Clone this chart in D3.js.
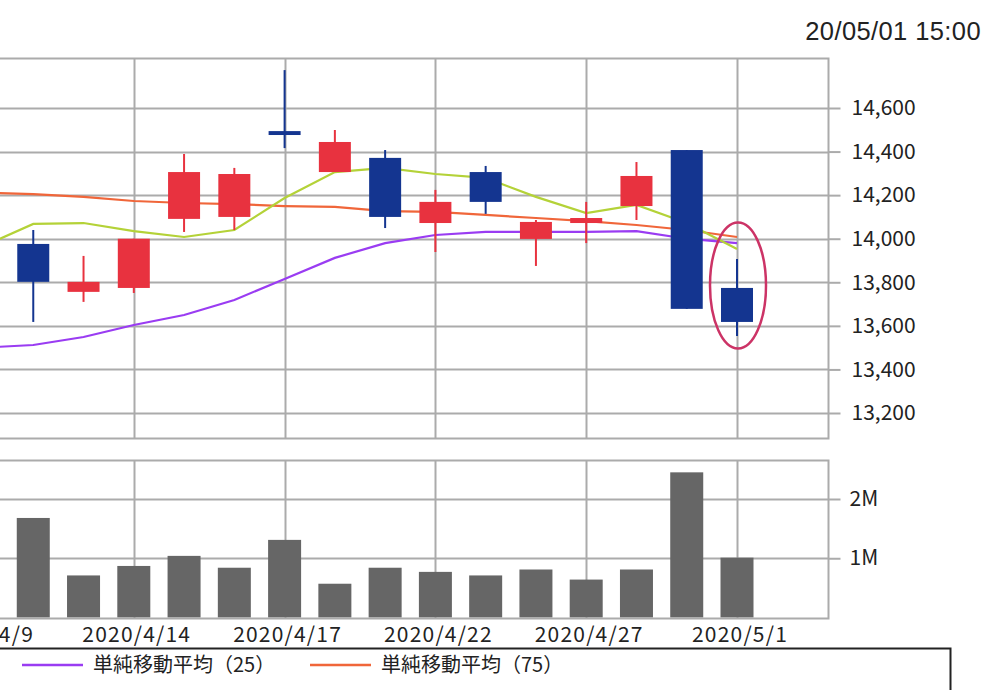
<!DOCTYPE html>
<html><head><meta charset="utf-8">
<script src="https://cdn.jsdelivr.net/npm/d3@7"></script>
<style>
html,body{margin:0;padding:0;background:#fff;overflow:hidden}
svg{display:block}
</style></head>
<body>
<svg id="c" width="994" height="690"></svg>
<script>
// ---- data ----
const dates = ["2020/4/9","2020/4/10","2020/4/13","2020/4/14","2020/4/15","2020/4/16","2020/4/17","2020/4/20","2020/4/21","2020/4/22","2020/4/23","2020/4/24","2020/4/27","2020/4/28","2020/4/30","2020/5/1"];
const openP  = [null,13976,13756,13774,14091,14100,14494,14306,14371,14072,14306,13999,14072,14150,14407,13774];
const highP  = [null,14040,13921,14000,14389,14325,14774,14499,14407,14224,14334,14086,14169,14352,14407,13907];
const lowP   = [null,13618,13710,13751,14031,14040,14416,14306,14049,13939,14114,13875,13980,14086,13678,13554];
const closeP = [null,13802,13802,14000,14306,14297,14476,14444,14100,14169,14169,14077,14095,14288,13678,13618];
const volume = [1450000,1680000,710000,870000,1040000,840000,1310000,570000,840000,770000,710000,810000,640000,810000,2450000,1010000];
const ma5  = [13965,14068,14072,14035,14008,14040,14187,14306,14325,14297,14279,14192,14118,14155,14072,13953];
const ma25 = [13500,13512,13549,13604,13650,13719,13815,13912,13980,14017,14031,14031,14031,14035,14000,13980];
const ma75 = [14212,14205,14192,14173,14164,14159,14150,14146,14127,14123,14109,14095,14081,14063,14040,14008];
const priceTicks = [13200,13400,13600,13800,14000,14200,14400,14600];
const volTicks = [1000000,2000000];
const volTickLabels = ["1M","2M"];
const labelDates = ["2020/4/9","2020/4/14","2020/4/17","2020/4/22","2020/4/27","2020/5/1"];
const legendItems = ["単純移動平均（25）","単純移動平均（75）"];
const stamp = "20/05/01 15:00";
const highlightDate = "2020/5/1";

// ---- layout ----
const svg = d3.select("#c");
const L = -80, R = 828.5;
const pTop = 58.5, pBot = 438.5, vTop = 460.5, vBot = 618.5;
const grid = "#ababab", red = "#e8323f", blue = "#143590";
const colG = "#b4d238", colP = "#9a3cf2", colO = "#f0663a";
const font = "'Noto Sans CJK JP','Noto Sans',sans-serif";

const idx = d3.range(dates.length);
const x = d3.scaleLinear().domain([0, dates.length - 1]).range([-17, 737]);
const y = d3.scaleLinear().domain([13200, 14600]).range([413, 108]);
const yv = d3.scaleLinear().domain([0, 2000000]).range([617.5, 499]);

// timestamp
svg.append("text").attr("x", 981).attr("y", 40).attr("text-anchor", "end")
  .attr("font-family", "'Liberation Sans',Arial,sans-serif").attr("font-size", 25.5)
  .attr("letter-spacing", 0.4)
  .attr("fill", "#222").text(stamp);

// ---- price panel grid ----
const gp = svg.append("g");
gp.selectAll(".hg").data(priceTicks).join("line")
  .attr("x1", L).attr("x2", R).attr("y1", d => Math.round(y(d)) + 0.5).attr("y2", d => Math.round(y(d)) + 0.5)
  .attr("stroke", grid).attr("stroke-width", 2);
gp.selectAll(".vg").data(labelDates).join("line")
  .attr("x1", d => Math.round(x(dates.indexOf(d))) + 0.5).attr("x2", d => Math.round(x(dates.indexOf(d))) + 0.5)
  .attr("y1", pTop).attr("y2", pBot).attr("stroke", grid).attr("stroke-width", 2);
gp.append("rect").attr("x", L).attr("y", pTop).attr("width", R - L).attr("height", pBot - pTop)
  .attr("fill", "none").attr("stroke", grid).attr("stroke-width", 2);

// price axis
const ax = svg.append("g").attr("transform", `translate(${R},0)`)
  .call(d3.axisRight(y).tickValues(priceTicks).tickSize(12).tickPadding(11).tickFormat(d3.format(",")));
ax.select(".domain").remove();
ax.selectAll(".tick line").attr("stroke", grid).attr("stroke-width", 2);
ax.selectAll(".tick text").attr("font-family", font).attr("font-size", 21).attr("fill", "#222");

// moving averages
const lineGen = arr => d3.line().x(i => x(i)).y(i => y(arr[i]))(idx);
[[ma75, colO], [ma25, colP], [ma5, colG]].forEach(([arr, c]) => {
  svg.append("path").attr("d", lineGen(arr)).attr("fill", "none").attr("stroke", c).attr("stroke-width", 2.2);
});

// candles
const cidx = idx.filter(i => openP[i] != null);
const cg = svg.append("g");
const bw = 32;
cg.selectAll(".wick").data(cidx).join("line")
  .attr("x1", i => x(i)).attr("x2", i => x(i))
  .attr("y1", i => y(highP[i])).attr("y2", i => y(lowP[i]))
  .attr("stroke", i => closeP[i] >= openP[i] ? red : blue).attr("stroke-width", 2);
cg.selectAll(".body").data(cidx).join("rect")
  .attr("x", i => x(i) - bw / 2).attr("width", bw)
  .attr("y", i => y(Math.max(openP[i], closeP[i])))
  .attr("height", i => Math.max(3, Math.abs(y(openP[i]) - y(closeP[i]))))
  .attr("fill", i => closeP[i] >= openP[i] ? red : blue);

// highlight ellipse
const hi = dates.indexOf(highlightDate);
svg.append("ellipse").attr("cx", x(hi) + 1).attr("cy", y((highP[hi] + lowP[hi]) / 2) - 12)
  .attr("rx", 28).attr("ry", 63).attr("fill", "none").attr("stroke", "#cc3366").attr("stroke-width", 2.5);

// ---- volume panel ----
const gv = svg.append("g");
gv.selectAll(".hg").data(volTicks).join("line")
  .attr("x1", L).attr("x2", R).attr("y1", d => Math.round(yv(d)) + 0.5).attr("y2", d => Math.round(yv(d)) + 0.5)
  .attr("stroke", grid).attr("stroke-width", 2);
gv.selectAll(".vg").data(labelDates).join("line")
  .attr("x1", d => Math.round(x(dates.indexOf(d))) + 0.5).attr("x2", d => Math.round(x(dates.indexOf(d))) + 0.5)
  .attr("y1", vTop).attr("y2", vBot).attr("stroke", grid).attr("stroke-width", 2);
gv.selectAll(".vb").data(idx).join("rect")
  .attr("x", i => x(i) - 16.5).attr("width", 33)
  .attr("y", i => yv(volume[i])).attr("height", i => yv(0) - yv(volume[i]))
  .attr("fill", "#666");
gv.append("rect").attr("x", L).attr("y", vTop).attr("width", R - L).attr("height", vBot - vTop)
  .attr("fill", "none").attr("stroke", grid).attr("stroke-width", 2);

const avx = svg.append("g").attr("transform", `translate(${R},0)`)
  .call(d3.axisRight(yv).tickValues(volTicks).tickSize(12).tickPadding(9)
    .tickFormat((d, i) => volTickLabels[i]));
avx.select(".domain").remove();
avx.selectAll(".tick line").attr("stroke", grid).attr("stroke-width", 2);
avx.selectAll(".tick text").attr("font-family", font).attr("font-size", 21).attr("fill", "#222");

// x labels
svg.selectAll(".xl").data(labelDates).join("text")
  .attr("x", d => x(dates.indexOf(d)) + 3).attr("y", 642).attr("text-anchor", "middle")
  .attr("font-family", font).attr("font-size", 21).attr("letter-spacing", 1.2).attr("fill", "#222")
  .text(d => d);

// legend
svg.append("path").attr("d", "M-10,648.5 H950.5 V700").attr("fill", "none").attr("stroke", "#222").attr("stroke-width", 2);
const lg = svg.selectAll(".lg").data(legendItems).join("g")
  .attr("transform", (d, i) => `translate(${22 + i * 288},0)`);
lg.append("line").attr("x1", 0).attr("x2", 61).attr("y1", 665).attr("y2", 665)
  .attr("stroke", (d, i) => [colP, colO][i]).attr("stroke-width", 2.5);
lg.append("text").attr("x", 71).attr("y", 672).attr("font-family", font).attr("font-size", 20)
  .attr("fill", "#222").text(d => d);
</script>
</body></html>
